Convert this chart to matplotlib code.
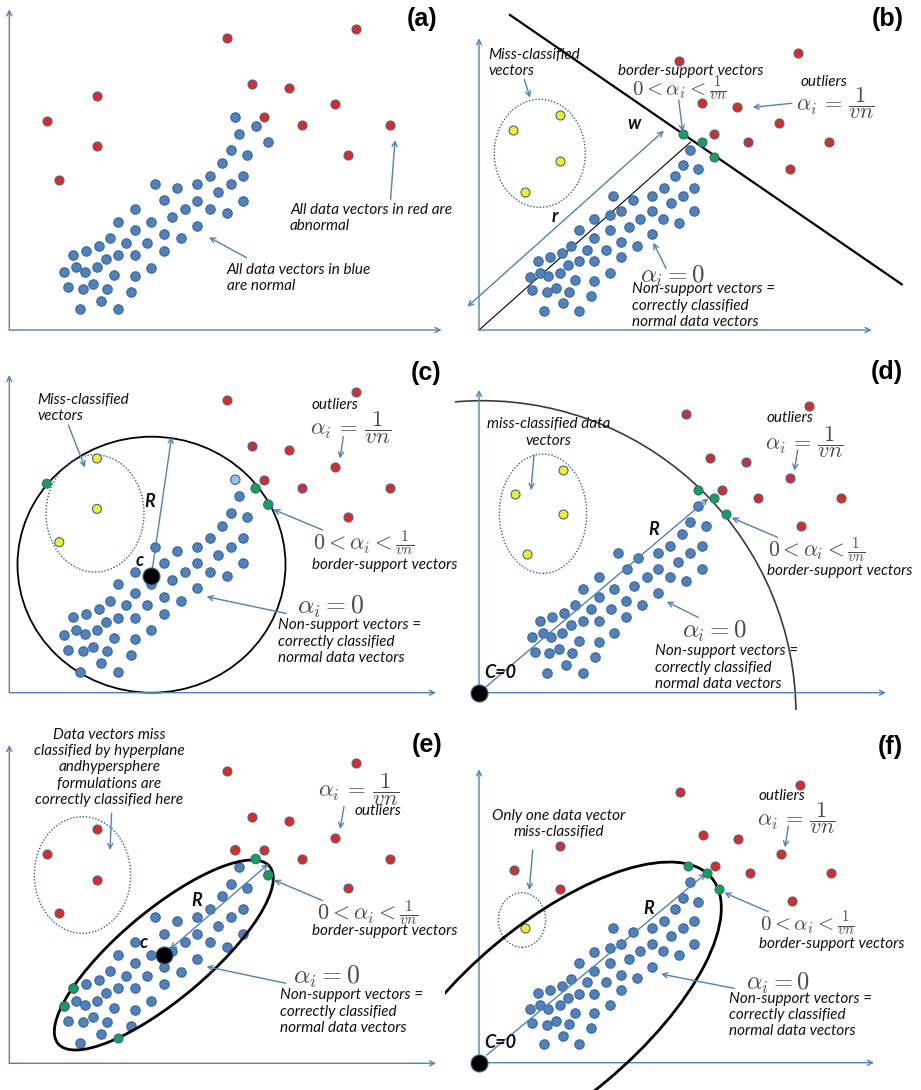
import numpy as np
import matplotlib.pyplot as plt
from matplotlib.patches import Ellipse, Circle

W, H = 921, 1090
plt.rcParams['mathtext.fontset'] = 'cm'

# point data, in px measured from each panel's own axis origin (y up)
# normal cluster shared by panels (a), (c), (e)
normal_ace = np.array([
    [70.7, 20.7], [108.7, 20.7], [91.7, 29.3], [121.3, 37.7], [58.3, 42.7], [73.3, 41.3],
    [83.3, 46], [98, 41.3], [55, 57.7], [66.7, 62.7], [76, 58.3], [87.7, 62.7],
    [104.7, 55], [125.7, 53.7], [142, 62.3], [63.3, 75.3], [77, 79], [89.7, 83.7],
    [96.7, 70.7], [108.7, 75], [125.7, 75], [100.3, 92], [117, 87.3], [138, 87.3],
    [154.3, 79], [154.3, 96], [171.3, 91.7], [125.7, 100], [109, 108.3], [125.3, 121],
    [142, 108.3], [163, 112.7], [154.3, 129.7], [175.7, 121], [188, 104.3], [200.7, 121],
    [217.3, 116.7], [188, 129.3], [209, 137.7], [146, 146], [167.3, 142], [188, 146],
    [221.3, 146], [200.7, 154.3], [234, 154.3], [234, 129.3], [213, 167], [238, 175.3],
    [221.3, 179.7], [229.7, 196.3]])
edge_ace = np.array([[226, 213], [246.3, 204.3], [259, 188]])
outliers_ace = np.array([
    [217.3, 292.3], [347, 300.7], [242.3, 246.3], [280, 242.3], [326, 225.7],
    [255, 213], [292.7, 204.7], [380.3, 204.7], [338.7, 175.3]])
miscls_ace = np.array([[37.5, 209], [87.7, 234.2], [87.7, 183.8], [50, 150.5]])
support_e = np.array([[63.3, 75.3], [55, 57.7], [108.7, 25.5]])

# normal cluster shared by panels (b), (f)
normal_bf = np.array([
    [58.7, 69.3], [71, 73], [82.7, 76.7], [92.3, 84], [100, 99.7], [115.3, 111],
    [134.3, 134.3], [153.7, 130.3], [173, 134.3], [184.7, 142], [196.3, 153.7], [204, 165],
    [211.3, 180.3], [219, 161], [215.3, 142], [203.7, 134.3], [192, 126.7], [173, 119],
    [142.3, 119], [130.7, 115], [161.3, 111.3], [184.3, 111.3], [199.7, 107.3], [215.3, 119],
    [150, 103.3], [130.7, 99.7], [115.3, 92], [107.7, 80.3], [127, 80.3], [142.3, 88],
    [157.7, 84.3], [173, 95.7], [88.7, 64.7], [100, 69], [115.3, 69], [142.3, 72.7],
    [80.7, 57.3], [69.3, 53.7], [61, 57.3], [51, 53.3], [53.3, 39.7], [68, 38],
    [77, 42], [90, 38.3], [96, 50], [115.3, 49.3], [130.7, 57.3], [111.7, 34.3],
    [84.3, 26.7], [65.3, 18.7], [100, 18.7]])
greens_b = np.array([[203.7, 195.7], [223.3, 188], [234.7, 172.7]])
reds_b = np.array([
    [199.7, 269], [319.3, 276.7], [223.3, 226.7], [257.7, 222.7], [300, 207.3],
    [234.7, 195.7], [269.3, 188], [350, 188], [311.3, 161]])
yellows_b = np.array([[80.7, 215], [34.3, 199.7], [80.7, 168.7], [46.3, 138]])

# panel (d)
normal_d = np.array([
    [219, 187], [210.7, 170.7], [227, 167], [203, 159], [191, 147], [223, 147],
    [179.3, 139.3], [211, 139.3], [159.3, 135], [139.3, 139.3], [199.3, 131], [147.7, 123.3],
    [179.3, 123.3], [223.3, 123.3], [119.7, 115.3], [167.7, 115.3], [191, 115.3], [207, 111.3],
    [103.7, 103.3], [135.3, 103.3], [155.3, 107], [119.7, 95.7], [147, 91.3], [179.3, 99.3],
    [163.3, 87.3], [95.7, 87.3], [111.7, 83.3], [131.7, 83.3], [85.3, 79.3], [73.3, 75.3],
    [61, 71.7], [103.7, 71.7], [119.7, 71.7], [147.3, 75.3], [92, 67.3], [52.7, 55.3],
    [63.7, 59.3], [72.3, 56], [83.3, 59.3], [99.7, 52], [119.7, 51], [135.3, 59.3],
    [56, 41], [70, 39.3], [79.7, 43.3], [93.3, 40], [115.7, 35.3], [87, 27.7],
    [67.7, 19.7], [103.7, 19.7]])
greens_d = np.array([[219, 202.7], [235, 195], [247, 179]])
reds_d = np.array([
    [207, 278.7], [330.3, 286.7], [231, 234.7], [266.7, 230.7], [310.7, 215],
    [243, 202.7], [278.7, 195], [362.3, 195], [322.3, 167]])
yellows_d = np.array([[83.7, 222.7], [36, 198.7], [83.7, 179], [48, 139]])

# panel (f)
greens_f = np.array([[208.7, 197], [228, 189.3], [239.7, 173.3]])
reds_f = np.array([
    [201, 270.3], [321, 278], [224.3, 227.7], [259.3, 224], [301.7, 208.3],
    [236, 197], [271, 189.3], [352, 189.3], [313.3, 162],
    [34.7, 193], [81, 216.3], [81, 173.7]])
yellows_f = np.array([[46.3, 134.7]])

BLUE = '#4f81bd'
EDGE = '#3b679c'
RED = '#e5281f'
GREEN = '#13a24f'
YELLOW = '#f4ec25'
LIGHT = '#9fc0e4'
AXC = '#4f81bd'
MATHC = '#4a4a4a'
TXTFONT = 'Lato'

ALPHA_OUT = r'$\alpha_i\, =\, \dfrac{1}{vn}$'
ALPHA_BORDER = r'$0 < \alpha_i < \frac{1}{vn}$'
ALPHA_ZERO = r'$\alpha_i = 0$'
NONSUP = 'Non-support vectors =\ncorrectly classified\nnormal data vectors'

fig = plt.figure(figsize=(W / 100, H / 100), dpi=100)


def panel(box, origin, xend, ytop):
    x0, y0, x1, y1 = box
    ox, oy = origin
    ax = fig.add_axes([x0 / W, 1 - y1 / H, (x1 - x0) / W, (y1 - y0) / H])
    ax.set_xlim(x0 - ox, x1 - ox)
    ax.set_ylim(oy - y1, oy - y0)
    ax.axis('off')
    for xy in [(0, ytop), (xend, 0)]:
        ax.annotate('', xy=xy, xytext=(0, 0),
                    arrowprops=dict(arrowstyle='->', color=AXC, lw=1.0,
                                    shrinkA=0, shrinkB=0, mutation_scale=9))
    return ax


def dots(ax, pts, fc, s=46, z=3):
    pts = np.asarray(pts)
    ax.scatter(pts[:, 0], pts[:, 1], s=s, c=fc, edgecolors=EDGE,
               linewidths=0.8, zorder=z)


def centre(ax, x, y):
    ax.scatter([x], [y], s=150, c='black', edgecolors=EDGE, linewidths=0.8, zorder=6)


def note(ax, x, y, txt, ha='left'):
    ax.text(x, y, txt, ha=ha, va='center', fontsize=11, fontstyle='italic',
            family=TXTFONT, color='#111111', linespacing=1.2, zorder=6)


def bold(ax, x, y, txt):
    ax.text(x, y, txt, ha='center', va='center', fontsize=13, fontstyle='italic',
            fontweight='bold', family=TXTFONT, color='#111111', zorder=6)


def math(ax, x, y, txt, size=16):
    ax.text(x, y, txt, ha='left', va='center', fontsize=size, color=MATHC, zorder=6)


def pointer(ax, start, end, both=False, color=AXC):
    ax.annotate('', xy=end, xytext=start,
                arrowprops=dict(arrowstyle='<->' if both else '->', color=color,
                                lw=1.0, shrinkA=0, shrinkB=0, mutation_scale=9),
                zorder=5)


def dotted(ax, c, w, h):
    ax.add_patch(Ellipse(c, w, h, fill=False, ec='#2f5ea8', lw=1.0,
                         ls=(0, (1, 1.3)), zorder=2))


def tag(xr, y, name):
    fig.text(xr / W, 1 - y / H, name, ha='right', va='center', fontsize=18,
             fontweight='bold', family='Liberation Sans')


# ---------- (a) ----------
ax = panel((0, 0, 460, 340), (9.3, 330), 432.3, 320.7)
dots(ax, normal_ace, BLUE)
dots(ax, edge_ace, BLUE)
dots(ax, outliers_ace, RED, s=42)
dots(ax, miscls_ace, RED, s=42)
note(ax, 280.7, 112.3, 'All data vectors in red are\nabnormal')
pointer(ax, (381.3, 130.7), (385.7, 190))
note(ax, 217.3, 52.3, 'All data vectors in blue\nare normal')
pointer(ax, (237.3, 72.3), (199.7, 92.7))
tag(437, 19.3, '(a)')

# ---------- (b) ----------
ax = panel((460, 0, 921, 340), (479, 330), 392.7, 291.7)
ax.plot([31, 422.7], [315, 45.7], color='black', lw=1.6, zorder=4)
ax.plot([0, 211.3], [0, 187.7], color='black', lw=0.8, zorder=2)
pointer(ax, (-11.7, 23.3), (185, 199.3), both=True)
dots(ax, normal_bf, BLUE)
dots(ax, greens_b, GREEN, s=42, z=5)
dots(ax, reds_b, RED, s=42, z=5)
dots(ax, yellows_b, YELLOW, s=42)
dotted(ax, (60.8, 176.7), 91, 108)
note(ax, 9.3, 267.2, 'Miss-classified\nvectors')
pointer(ax, (45.3, 250.7), (51, 232.3))
note(ax, 139.3, 259, 'border-support vectors')
math(ax, 152.7, 241, ALPHA_BORDER, 15)
pointer(ax, (199.7, 230), (203.7, 198.3))
note(ax, 321.7, 248, 'outliers')
math(ax, 317, 226.7, ALPHA_OUT)
pointer(ax, (312.7, 226.7), (273.7, 222.7))
math(ax, 161, 53.3, ALPHA_ZERO, 18)
pointer(ax, (187, 61.7), (174.3, 87.3))
note(ax, 152.7, 24.3, NONSUP)
bold(ax, 155, 206.7, 'w')
bold(ax, 76, 113.3, 'r')
tag(904, 19.3, '(b)')

# ---------- (c) ----------
ax = panel((0, 340, 460, 710), (9.3, 692.7), 426.7, 317.7)
ax.add_patch(Ellipse((142.2, 128), 268, 256, fill=False, ec='black', lw=1.3, zorder=2))
dots(ax, normal_ace, BLUE)
dots(ax, edge_ace, [LIGHT, GREEN, GREEN])
dots(ax, outliers_ace, RED, s=42)
dots(ax, miscls_ace, [GREEN, YELLOW, YELLOW, YELLOW], s=42)
centre(ax, 142, 116.7)
pointer(ax, (142, 116.7), (162.3, 256))
dotted(ax, (85.7, 179.3), 98, 117.3)
note(ax, 28.3, 284.3, 'Miss-classified\nvectors')
pointer(ax, (59, 267.7), (75.7, 225.3))
note(ax, 302.3, 288, 'outliers')
math(ax, 300.7, 264.3, ALPHA_OUT, 16.5)
pointer(ax, (334, 256), (330.7, 234.3))
math(ax, 304, 149.3, ALPHA_BORDER, 16)
pointer(ax, (313.3, 162.7), (264, 183.3))
note(ax, 303, 127.7, 'border-support vectors')
math(ax, 287.3, 86, ALPHA_ZERO, 18.5)
pointer(ax, (276.7, 79.3), (197.3, 96))
note(ax, 269, 51, NONSUP)
bold(ax, 140.7, 191, 'R')
bold(ax, 130.7, 132.7, 'c')
tag(441.7, 373.3, '(c)')

# ---------- (d) ----------
ax = panel((455, 340, 921, 710), (479, 692.7), 407, 302.7)
ax.add_patch(Circle((3, -22), 314, fill=False, ec='#3a3a3a', lw=1.2, zorder=2))
pointer(ax, (0, 0), (229.3, 194.3))
dots(ax, normal_d, BLUE)
dots(ax, greens_d, GREEN, s=42, z=5)
dots(ax, reds_d, RED, s=42)
dots(ax, yellows_d, YELLOW, s=42)
centre(ax, 0, 0)
dotted(ax, (64, 179), 87.3, 119.3)
note(ax, 69.7, 260.2, 'miss-classified data\nvectors', ha='center')
pointer(ax, (55, 237.7), (52, 202.7))
note(ax, 287.7, 275, 'outliers')
math(ax, 286, 251, ALPHA_OUT)
pointer(ax, (318.7, 242.7), (315.3, 222))
math(ax, 289.3, 142, ALPHA_BORDER, 15.5)
pointer(ax, (298.7, 155.3), (252.7, 175))
note(ax, 288.3, 122, 'border-support vectors')
math(ax, 202.7, 61, ALPHA_ZERO, 18)
pointer(ax, (219.3, 75.3), (187.7, 91))
note(ax, 176, 25, NONSUP)
bold(ax, 174.3, 163.3, 'R')
bold(ax, 21, 20.3, 'C=0')
tag(903.3, 372.3, '(d)')

# ---------- (e) ----------
ax = panel((0, 710, 460, 1090), (9.3, 1063.3), 426.7, 318.3)
ax.add_patch(Ellipse((154.5, 108.3), 276, 89, angle=40, fill=False, ec='black',
                     lw=2.0, zorder=4))
dots(ax, np.delete(normal_ace, 1, axis=0), BLUE)
dots(ax, edge_ace, [RED, GREEN, GREEN], z=5)
dots(ax, support_e, GREEN, s=42, z=5)
dots(ax, outliers_ace, RED, s=42)
dots(ax, miscls_ace, RED, s=42)
centre(ax, 154.7, 108.7)
pointer(ax, (160.7, 114), (259, 199.3), both=True)
dotted(ax, (73.2, 188.3), 96.3, 116.7)
note(ax, 100, 296, 'Data vectors miss\nclassified by hyperplane\nandhypersphere\n'
     'formulations are\ncorrectly classified here', ha='center')
pointer(ax, (102.3, 250), (100.7, 213.3))
math(ax, 309, 273.3, ALPHA_OUT, 16.5)
note(ax, 345.7, 252.3, 'outliers')
pointer(ax, (334.7, 256.7), (330.7, 234.3))
math(ax, 307.3, 150, ALPHA_BORDER, 16)
pointer(ax, (313.3, 162.7), (264.7, 183.3))
note(ax, 303, 132.7, 'border-support vectors')
math(ax, 283.3, 86.7, ALPHA_ZERO, 18.5)
pointer(ax, (276.7, 80), (197.3, 96.7))
note(ax, 270.7, 51.7, NONSUP)
bold(ax, 187.3, 162.7, 'R')
bold(ax, 134.7, 120.7, 'c')
tag(442, 745, '(e)')

# ---------- (f) ----------
ax = panel((445, 710, 921, 1090), (479, 1062.7), 395, 293.3)
ax.add_patch(Ellipse((71.8, 49.8), 420, 176, angle=40, fill=False, ec='black',
                     lw=2.0, zorder=4))
pointer(ax, (7.7, 7.7), (227, 189.3))
dots(ax, normal_bf, BLUE)
dots(ax, greens_f, GREEN, s=42, z=5)
dots(ax, reds_f, RED, s=42)
dots(ax, yellows_f, YELLOW, s=42)
centre(ax, 0, 0)
dotted(ax, (43, 142.7), 47.3, 54.7)
note(ax, 80, 238.3, 'Only one data vector\nmiss-classified', ha='center')
pointer(ax, (53.7, 212.7), (50.3, 172.7))
note(ax, 279.3, 266.5, 'outliers')
math(ax, 277.7, 244.3, ALPHA_OUT)
pointer(ax, (309.3, 236.7), (306, 215.3))
math(ax, 281, 138.7, ALPHA_BORDER, 15)
pointer(ax, (289.3, 151), (245.3, 170))
note(ax, 280.3, 118.3, 'border-support vectors')
math(ax, 267, 79.3, ALPHA_ZERO, 17.5)
pointer(ax, (255.3, 74.3), (182, 88.7))
note(ax, 250.3, 47.7, NONSUP)
bold(ax, 169.3, 154.3, 'R')
bold(ax, 21, 20, 'C=0')
tag(903, 746.7, '(f)')

fig.savefig('out.png', dpi=100, facecolor='white')
